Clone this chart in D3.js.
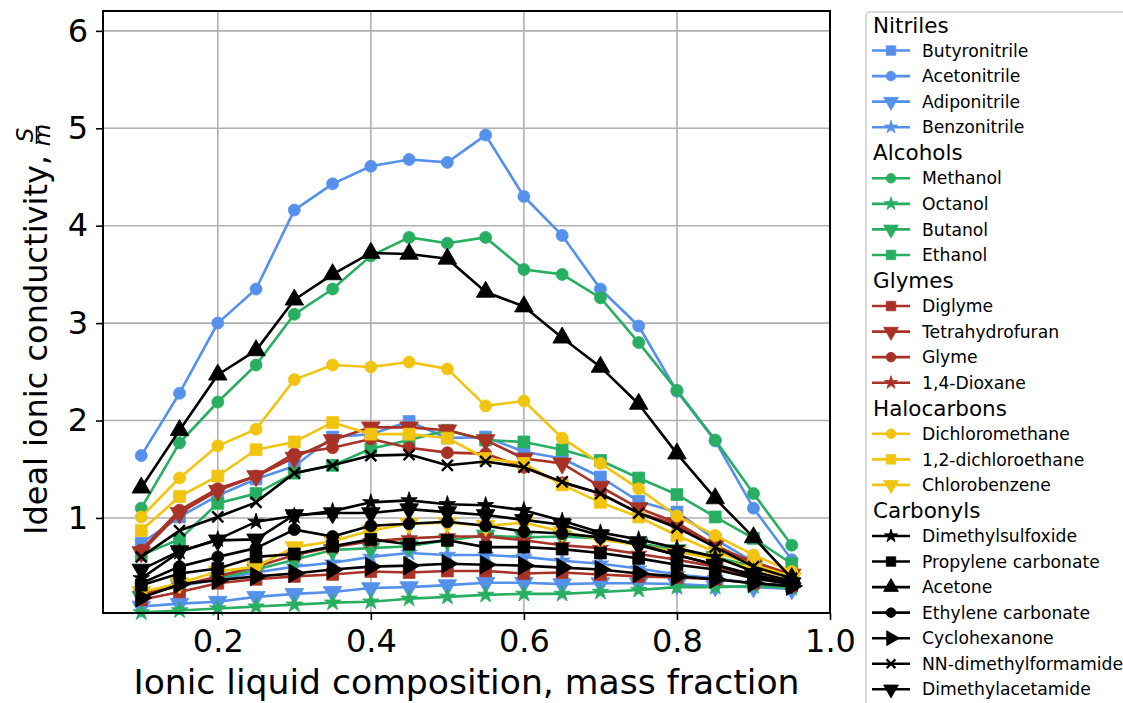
<!DOCTYPE html>
<html><head><meta charset="utf-8">
<script src="https://cdn.jsdelivr.net/npm/d3@7"></script>
<style>body{margin:0;background:#fff;} text{font-family:"DejaVu Sans",sans-serif;}</style>
</head><body><svg id="c" width="1123" height="703"></svg>
<script>
// ---------- data ----------
const xValues = [0.1,0.15,0.2,0.25,0.3,0.35,0.4,0.45,0.5,0.55,0.6,0.65,0.7,0.75,0.8,0.85,0.9,0.95];
const xTicks = [0.2,0.4,0.6,0.8,1.0];
const yTicks = [1,2,3,4,5,6];
const groupNames = ["Nitriles","Alcohols","Glymes","Halocarbons","Carbonyls"];
const groupColors = ["#5591ea","#27ae60","#a93226","#f1c40f","#000000"];

const nitrileNames = ["Butyronitrile","Acetonitrile","Adiponitrile","Benzonitrile"];
const butyronitrile = [0.74,1.01,1.23,1.40,1.53,1.83,1.86,1.99,1.82,1.83,1.68,1.61,1.42,1.17,1.06,0.78,0.55,0.41];
const acetonitrile  = [1.64,2.28,3.00,3.35,4.16,4.43,4.61,4.68,4.65,4.93,4.30,3.90,3.35,2.97,2.30,1.79,1.10,0.57];
const adiponitrile  = [0.09,0.12,0.14,0.19,0.22,0.24,0.28,0.29,0.31,0.335,0.335,0.32,0.33,0.33,0.32,0.30,0.29,0.27];
const benzonitrile  = [0.22,0.30,0.37,0.44,0.50,0.54,0.60,0.64,0.62,0.62,0.60,0.56,0.53,0.48,0.42,0.38,0.33,0.30];

const alcoholNames = ["Methanol","Octanol","Butanol","Ethanol"];
const methanol = [1.10,1.77,2.19,2.57,3.09,3.35,3.69,3.88,3.82,3.88,3.55,3.50,3.26,2.80,2.31,1.80,1.25,0.72];
const octanol  = [0.03,0.05,0.07,0.09,0.11,0.13,0.14,0.17,0.19,0.21,0.22,0.22,0.24,0.26,0.29,0.29,0.30,0.28];
const butanol  = [0.19,0.31,0.38,0.47,0.57,0.67,0.69,0.71,0.77,0.82,0.80,0.81,0.79,0.74,0.67,0.60,0.50,0.38];
const ethanol  = [0.62,0.78,1.15,1.25,1.46,1.54,1.71,1.80,1.90,1.80,1.78,1.70,1.59,1.41,1.24,1.01,0.79,0.53];

const glymeNames = ["Diglyme","Tetrahydrofuran","Glyme","1,4-Dioxane"];
const diglyme = [0.16,0.24,0.33,0.37,0.40,0.42,0.45,0.44,0.455,0.455,0.43,0.44,0.42,0.40,0.39,0.37,0.33,0.30];
const thf     = [0.65,1.05,1.28,1.43,1.62,1.80,1.93,1.93,1.90,1.80,1.61,1.56,1.32,1.10,0.95,0.72,0.53,0.42];
const glyme   = [0.67,1.08,1.30,1.43,1.66,1.72,1.81,1.72,1.67,1.66,1.52,1.36,1.25,1.05,0.93,0.70,0.55,0.42];
const dioxane = [0.22,0.30,0.40,0.50,0.62,0.70,0.76,0.79,0.81,0.81,0.77,0.72,0.69,0.63,0.57,0.50,0.40,0.33];

const halocarbonNames = ["Dichloromethane","1,2-dichloroethane","Chlorobenzene"];
const dichloromethane = [1.01,1.41,1.74,1.91,2.42,2.57,2.55,2.60,2.53,2.15,2.20,1.82,1.56,1.30,1.02,0.82,0.62,0.45];
const dichloroethane  = [0.87,1.22,1.43,1.70,1.78,1.98,1.86,1.86,1.82,1.61,1.56,1.34,1.16,1.01,0.82,0.65,0.52,0.40];
const chlorobenzene   = [0.24,0.33,0.45,0.50,0.70,0.76,0.87,0.94,0.95,0.92,0.95,0.86,0.78,0.72,0.65,0.58,0.48,0.38];

const carbonylNames = ["Dimethylsulfoxide","Propylene carbonate","Acetone","Ethylene carbonate","Cyclohexanone","NN-dimethylformamide","Dimethylacetamide"];
const dmso        = [0.38,0.65,0.78,0.96,1.02,1.07,1.16,1.18,1.14,1.13,1.08,0.97,0.85,0.78,0.69,0.60,0.45,0.35];
const propCarb    = [0.31,0.43,0.48,0.60,0.63,0.71,0.78,0.73,0.77,0.70,0.70,0.68,0.64,0.585,0.52,0.47,0.38,0.32];
const acetone     = [1.31,1.90,2.47,2.72,3.24,3.50,3.72,3.71,3.66,3.32,3.17,2.85,2.55,2.17,1.66,1.20,0.80,0.38];
const ethCarb     = [0.33,0.50,0.60,0.69,0.88,0.81,0.92,0.94,0.96,0.92,0.86,0.84,0.80,0.73,0.62,0.52,0.40,0.32];
const cyclohexanone = [0.18,0.32,0.36,0.40,0.43,0.47,0.50,0.51,0.53,0.52,0.51,0.49,0.47,0.43,0.40,0.37,0.33,0.30];
const dmf         = [0.60,0.87,1.01,1.16,1.46,1.54,1.64,1.65,1.54,1.58,1.52,1.37,1.25,1.05,0.90,0.70,0.50,0.38];
const dmac        = [0.47,0.66,0.77,0.78,1.03,1.05,1.05,1.09,1.06,1.03,0.98,0.93,0.82,0.72,0.62,0.52,0.42,0.33];

const groups = [
  {name: groupNames[0], color: groupColors[0], names: nitrileNames, markers: ["square","circle","tdown","star"], data: [butyronitrile,acetonitrile,adiponitrile,benzonitrile]},
  {name: groupNames[1], color: groupColors[1], names: alcoholNames, markers: ["circle","star","tdown","square"], data: [methanol,octanol,butanol,ethanol]},
  {name: groupNames[2], color: groupColors[2], names: glymeNames, markers: ["square","tdown","circle","star"], data: [diglyme,thf,glyme,dioxane]},
  {name: groupNames[3], color: groupColors[3], names: halocarbonNames, markers: ["circle","square","tdown"], data: [dichloromethane,dichloroethane,chlorobenzene]},
  {name: groupNames[4], color: groupColors[4], names: carbonylNames, markers: ["star","square","tup","circle","tright","x","tdown"], data: [dmso,propCarb,acetone,ethCarb,cyclohexanone,dmf,dmac]}
];

// ---------- layout ----------
const svg = d3.select("#c");
const L = 103, R = 830, T = 11, B = 613;
const x = d3.scaleLinear().domain([0.05, 1.0]).range([L, R]);
const y = d3.scaleLinear().domain([0.024, 6.204]).range([B, T]);

// grid
const grid = svg.append("g");
xTicks.forEach(t => grid.append("line").attr("x1", x(t)).attr("x2", x(t)).attr("y1", T).attr("y2", B)
  .attr("stroke", "#b0b0b0").attr("stroke-width", 1.6));
yTicks.forEach(t => grid.append("line").attr("x1", L).attr("x2", R).attr("y1", y(t)).attr("y2", y(t))
  .attr("stroke", "#b0b0b0").attr("stroke-width", 1.6));

// markers
function markerPath(type, scale) {
  const s = scale || 1;
  if (type === "circle") return {d: d3.symbol(d3.symbolCircle, 113 * s * s)(), rot: 0};
  if (type === "square") return {d: d3.symbol(d3.symbolSquare, 140 * s * s)(), rot: 0};
  if (type === "star") return {d: d3.symbol(d3.symbolStar, 85 * s * s)(), rot: 0};
  if (type === "tup") return {d: d3.symbol(d3.symbolTriangle, 150 * s * s)(), rot: 0};
  if (type === "tdown") return {d: d3.symbol(d3.symbolTriangle, 150 * s * s)(), rot: 180};
  if (type === "tright") return {d: d3.symbol(d3.symbolTriangle, 150 * s * s)(), rot: 90};
  if (type === "x") { const r = 5.5 * s; return {d: `M${-r},${-r}L${r},${r}M${-r},${r}L${r},${-r}`, rot: 0, stroke: true}; }
}

const plot = svg.append("g");
const line = d3.line().x((d, i) => x(xValues[i])).y(d => y(d));
groups.forEach(g => {
  g.data.forEach((vals, k) => {
    const s = plot.append("g");
    s.append("path").attr("d", line(vals)).attr("fill", "none").attr("stroke", g.color)
      .attr("stroke-width", 2.6).attr("stroke-linejoin", "round");
    const m = markerPath(g.markers[k]);
    s.selectAll("path.m").data(vals).join("path").attr("class", "m").attr("d", m.d)
      .attr("transform", (d, i) => `translate(${x(xValues[i])},${y(d)}) rotate(${m.rot})`)
      .attr("fill", m.stroke ? "none" : g.color)
      .attr("stroke", g.color).attr("stroke-width", m.stroke ? 2.4 : 0.8);
  });
});

// spines
svg.append("rect").attr("x", L).attr("y", T).attr("width", R - L).attr("height", B - T)
  .attr("fill", "none").attr("stroke", "#000").attr("stroke-width", 2);

// axes
const xAxis = svg.append("g").attr("transform", `translate(0,${B})`)
  .call(d3.axisBottom(x).tickValues(xTicks).tickFormat(d3.format(".1f")).tickSize(7).tickPadding(9));
const yAxis = svg.append("g").attr("transform", `translate(${L},0)`)
  .call(d3.axisLeft(y).tickValues(yTicks).tickFormat(d3.format("d")).tickSize(7).tickPadding(8));
[xAxis, yAxis].forEach(a => {
  a.select(".domain").remove();
  a.selectAll(".tick line").attr("stroke", "#000").attr("stroke-width", 1.6);
  a.selectAll("text").attr("font-size", 32).attr("font-family", "DejaVu Sans").attr("fill", "#000");
});

// x label
svg.append("text").attr("x", (L + R) / 2).attr("y", 694).attr("text-anchor", "middle")
  .attr("font-size", 34.6).text("Ionic liquid composition, mass fraction");

// y label with fraction
const yl = svg.append("g");
const mainT = yl.append("text").attr("font-size", 32).text("Ideal ionic conductivity,");
const mainW = mainT.node().getComputedTextLength();
const gap = 10;
const fracW = 20;
const total = mainW + gap + fracW;
mainT.attr("x", -total / 2).attr("y", 0);
const fx = -total / 2 + mainW + gap + fracW / 2;
yl.append("text").attr("x", fx).attr("y", -14).attr("text-anchor", "middle").attr("font-size", 23)
  .attr("font-style", "italic").text("S");
yl.append("line").attr("x1", fx - 9).attr("x2", fx + 9).attr("y1", -10.5).attr("y2", -10.5).attr("stroke", "#000").attr("stroke-width", 1.5);
yl.append("text").attr("x", fx).attr("y", 3).attr("text-anchor", "middle").attr("font-size", 23)
  .attr("font-style", "italic").text("m");
yl.attr("transform", `translate(47,330) rotate(-90)`);

// legend
const lg = svg.append("g");
lg.append("rect").attr("x", 866).attr("y", 12).attr("width", 300).attr("height", 720).attr("rx", 4)
  .attr("fill", "#fff").attr("fill-opacity", 0.8).attr("stroke", "#cccccc").attr("stroke-width", 1.5);
let row = 0;
const rowY = i => 25 + i * 25.55;
groups.forEach(g => {
  lg.append("text").attr("x", 873).attr("y", rowY(row)).attr("dy", "0.36em").attr("font-size", 21.5).text(g.name);
  row++;
  g.names.forEach((n, k) => {
    const yy = rowY(row);
    lg.append("line").attr("x1", 872).attr("x2", 910).attr("y1", yy).attr("y2", yy)
      .attr("stroke", g.color).attr("stroke-width", 2.6);
    const m = markerPath(g.markers[k], 0.8);
    lg.append("path").attr("d", m.d).attr("transform", `translate(891,${yy}) rotate(${m.rot})`)
      .attr("fill", m.stroke ? "none" : g.color).attr("stroke", g.color).attr("stroke-width", m.stroke ? 2.2 : 0.8);
    lg.append("text").attr("x", 922).attr("y", yy).attr("dy", "0.36em").attr("font-size", 17.2).text(n);
    row++;
  });
});
</script></body></html>
